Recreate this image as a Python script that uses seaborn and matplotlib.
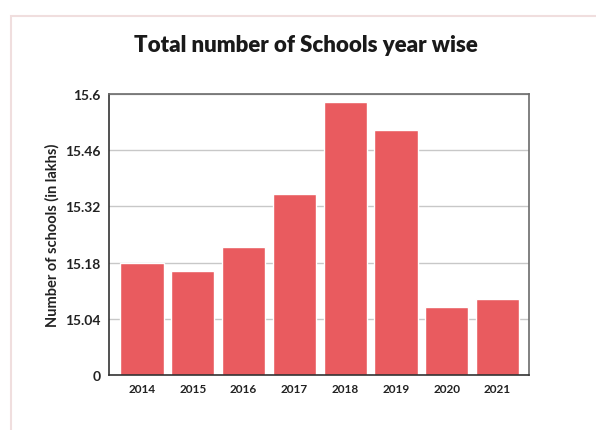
import numpy as np
import pandas as pd
import seaborn as sns
import matplotlib
matplotlib.use("Agg")
import matplotlib.pyplot as plt
from matplotlib.patches import Rectangle

# data (in lakhs)
years   = ["2014", "2015", "2016", "2017", "2018", "2019", "2020", "2021"]
schools = [15.18, 15.16, 15.22, 15.35, 15.58, 15.51, 15.07, 15.09]

# broken axis: the "0" label sits one step below 15.04
ytick_vals   = [14.90, 15.04, 15.18, 15.32, 15.46, 15.6]
ytick_labels = ["0", "15.04", "15.18", "15.32", "15.46", "15.6"]

df = pd.DataFrame({"year": years, "schools": schools})

sns.set_style("white")
plt.rcParams["font.family"] = ["Lato", "DejaVu Sans"]

fig = plt.figure(figsize=(5.96, 4.31), dpi=100)
ax = fig.add_axes([109/596, 1 - 376/431, 420/596, 281/431])

# light frame round the picture
fig.patches.append(Rectangle((11/596, -0.1), 1.2, 1 - 17/431 + 0.1,
                             transform=fig.transFigure, fill=False,
                             edgecolor="#f0dede", linewidth=1.5))

sns.barplot(data=df, x="year", y="schools", color="#e95b5f", saturation=1,
            width=0.85, ax=ax, zorder=2)

ax.set_ylim(14.90, 15.6)
ax.set_xlim(-0.65, 7.62)
ax.set_yticks(ytick_vals)
ax.set_yticklabels(ytick_labels)
ax.yaxis.grid(True, color="#c8c8c8", linewidth=1, zorder=0)
ax.set_axisbelow(True)

for s in ax.spines.values():
    s.set_color("#6b6b6b")
    s.set_linewidth(1.2)
ax.spines["left"].set_color("#333333")
ax.spines["bottom"].set_color("#333333")

ax.tick_params(axis="y", length=3, width=0.8, color="#555555", labelsize=10, pad=3)
ax.tick_params(axis="x", length=0, labelsize=8.5, pad=6)
for lab in ax.get_xticklabels() + ax.get_yticklabels():
    lab.set_fontweight("bold")
    lab.set_color("#222222")

ax.set_xlabel("")
ax.set_ylabel("Number of schools (in lakhs)", fontsize=10.5, fontweight="bold",
              color="#222222", labelpad=4)

fig.text(0.513, 1 - 45/431, "Total number of Schools year wise", ha="center",
         va="center", fontsize=16, fontweight="heavy", color="#1a1a1a")

fig.savefig("out.png", dpi=100, facecolor="white")
